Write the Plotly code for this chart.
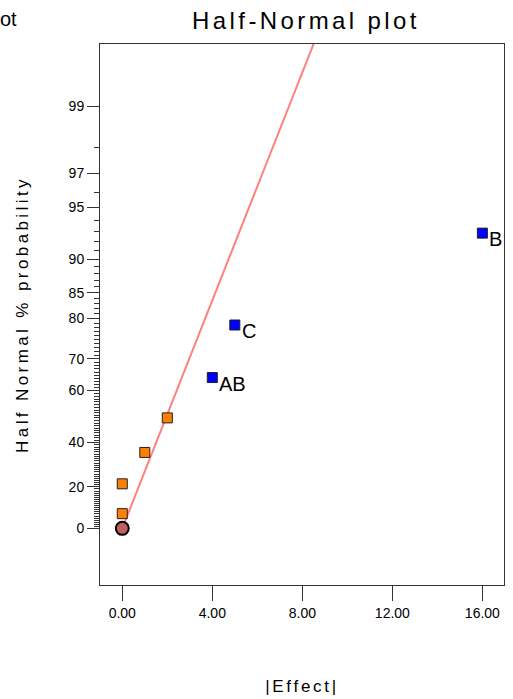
import plotly.graph_objects as go
from statistics import NormalDist

# ---------------- data ----------------
effect_abs = [0.0, 0.0, 1.0, 2.0, 4.0, 5.0, 16.0]          # |Effect|
half_normal_pct = [7.14, 21.43, 35.71, 50.0, 64.29, 78.57, 92.86]  # Half Normal % probability
point_group = ["error", "error", "error", "error", "model", "model", "model"]
term_labels = ["", "", "", "", "AB", "C", "B"]

error_point_x = [0.0]
error_point_pct = [0.0]

fit_slope_z_per_effect = 0.348   # half-normal z per unit |Effect|
fit_x = [0.0, 10.0]

y_major_pct = [0, 20, 40, 60, 70, 80, 85, 90, 95, 97, 99]
y_minor_pct = [p for p in range(1, 99) if p not in y_major_pct]
x_ticks = [0, 4, 8, 12, 16]
x_tick_labels = ["0.00", "4.00", "8.00", "12.00", "16.00"]

# ---------------- scale ----------------
ND = NormalDist()
def hn(p):
    # half-normal probability scale: z = Phi^-1((1+p)/2)
    return ND.inv_cdf((1 + p / 100.0) / 2.0)

FONT = "Arial, Liberation Sans, sans-serif"

fig = go.Figure()

# fitted line
fig.add_trace(go.Scatter(
    x=fit_x, y=[fit_slope_z_per_effect * v for v in fit_x],
    mode="lines", line=dict(color="#FF7F7F", width=2),
    hoverinfo="skip", showlegend=False))

# error (orange) points
ex = [x for x, g in zip(effect_abs, point_group) if g == "error"]
ey = [hn(p) for p, g in zip(half_normal_pct, point_group) if g == "error"]
fig.add_trace(go.Scatter(
    x=ex, y=ey, mode="markers",
    marker=dict(symbol="square", size=10, color="#FF8000",
                line=dict(color="#202020", width=1)),
    showlegend=False))

# model (blue) points
mx = [x for x, g in zip(effect_abs, point_group) if g == "model"]
my = [hn(p) for p, g in zip(half_normal_pct, point_group) if g == "model"]
fig.add_trace(go.Scatter(
    x=mx, y=my, mode="markers",
    marker=dict(symbol="square", size=10, color="#0000FF",
                line=dict(color="#202020", width=1)),
    showlegend=False))

# pure error circle
fig.add_trace(go.Scatter(
    x=error_point_x, y=[hn(p) for p in error_point_pct], mode="markers",
    marker=dict(symbol="circle", size=13, color="#C0605E",
                line=dict(color="black", width=2)),
    showlegend=False))

# term labels
for x, p, t in zip(effect_abs, half_normal_pct, term_labels):
    if t:
        fig.add_annotation(x=x, y=hn(p), text=t, showarrow=False,
                           xanchor="left", yanchor="middle",
                           xshift=5, yshift=-6,
                           font=dict(family=FONT, size=20, color="black"))

# partial top-left text
fig.add_annotation(xref="paper", yref="paper", x=-100/404, y=1 + 25/541,
                   text="ot", showarrow=False, xanchor="left", yanchor="middle",
                   xshift=-2,
                   font=dict(family=FONT, size=20, color="black"))

fig.update_layout(
    width=513, height=699,
    margin=dict(l=100, r=9, t=44, b=114, autoexpand=False),
    paper_bgcolor="white", plot_bgcolor="white",
    font=dict(family=FONT, size=14, color="black"),
    title=dict(text='<span style="letter-spacing:3.4px">Half-Normal plot</span>',
               x=306 / 513, xanchor="center",
               y=1 - 21 / 699, yanchor="middle",
               font=dict(family=FONT, size=24, color="black")),
    xaxis=dict(
        range=[-0.99, 16.96], tickvals=x_ticks, ticktext=x_tick_labels,
        ticks="outside", ticklen=15, tickwidth=1, tickcolor="#333",
        showline=True, linecolor="#333", linewidth=1, mirror=True,
        showgrid=False, zeroline=False, automargin=False,
        tickfont=dict(family=FONT, size=14),
        title=dict(text='<span style="letter-spacing:2.7px">|Effect|</span>',
                   standoff=60, font=dict(family=FONT, size=17)),
    ),
    yaxis=dict(
        range=[-0.346, 2.958],
        tickvals=[hn(p) for p in y_major_pct],
        ticktext=[str(p) for p in y_major_pct],
        ticks="outside", ticklen=12, tickwidth=1, tickcolor="#333",
        minor=dict(tickvals=[hn(p) for p in y_minor_pct], ticks="outside",
                   ticklen=5, tickwidth=1, tickcolor="#333", showgrid=False),
        showline=True, linecolor="#333", linewidth=1, mirror=True,
        showgrid=False, zeroline=False, automargin=False,
        tickfont=dict(family=FONT, size=14),
        title=dict(text='<span style="letter-spacing:3.4px">Half Normal % probability</span>',
                   standoff=35, font=dict(family=FONT, size=17)),
    ),
)

fig.write_html("out.html",
               config={"displayModeBar": False},
               post_script="document.body.style.margin='0';document.body.style.overflow='hidden';")
